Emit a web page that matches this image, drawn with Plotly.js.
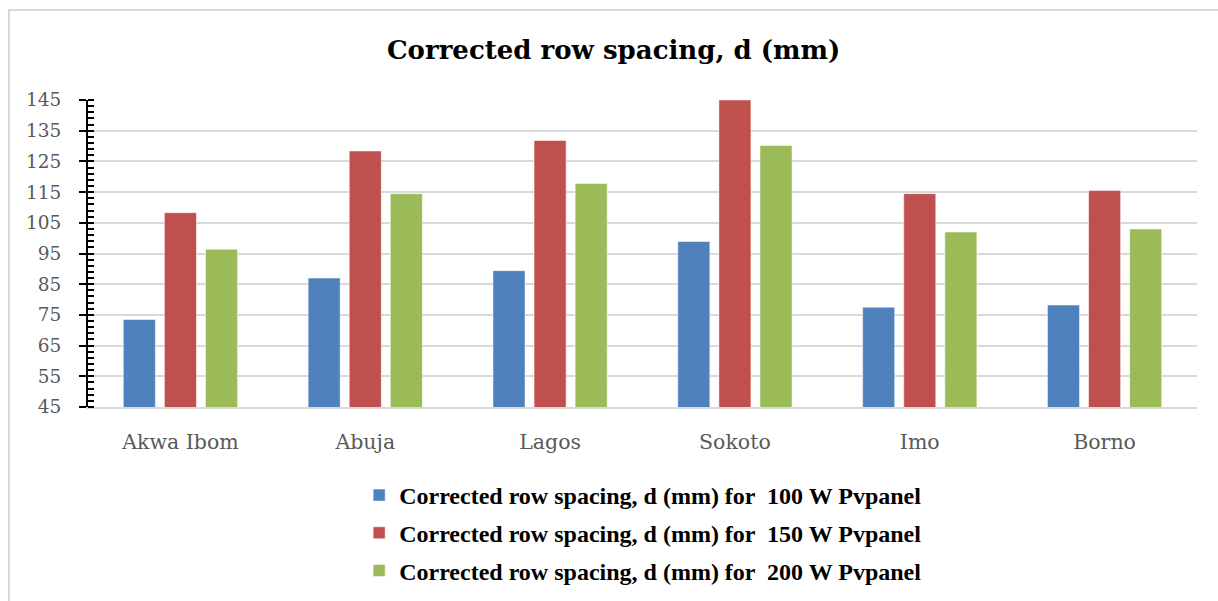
<!DOCTYPE html>
<html>
<head>
<meta charset="utf-8">
<script src="https://cdn.plot.ly/plotly-3.0.1.min.js"></script>
<style>
  html, body { margin: 0; padding: 0; background: #ffffff; }
  #frame { position: absolute; left: 8px; top: 9px; width: 1215px; height: 600px; border-left: 2px solid #d9d9d9; border-top: 2px solid #d9d9d9; box-sizing: border-box; }
  #chart { position: absolute; left: 0; top: 0; width: 1218px; height: 601px; }
</style>
</head>
<body>
<div id="frame"></div>
<div id="chart"></div>
<script>
const categories = ["Akwa Ibom", "Abuja", "Lagos", "Sokoto", "Imo", "Borno"];
const series100 = [73.5, 87.0, 89.4, 98.9, 77.5, 78.2];
const series150 = [108.3, 128.4, 131.8, 145.0, 114.5, 115.5];
const series200 = [96.4, 114.5, 117.8, 130.2, 102.0, 103.0];
const seriesNames = [
  "Corrected row spacing, d (mm) for  100 W Pvpanel",
  "Corrected row spacing, d (mm) for  150 W Pvpanel",
  "Corrected row spacing, d (mm) for  200 W Pvpanel"
];
const yTicks = [45, 55, 65, 75, 85, 95, 105, 115, 125, 135, 145];

const colors = ["#4F81BD", "#C0504D", "#9BBB59"];
const seriesValues = [series100, series150, series200];

const traces = seriesValues.map((vals, i) => ({
  type: "bar",
  name: seriesNames[i],
  x: categories,
  y: vals,
  legendgroup: "g" + i,
  marker: { color: colors[i], line: { color: "rgba(255,255,255,0.5)", width: 1 } },
  hoverinfo: "x+y"
}));

traces.push({
  type: "scatter", mode: "markers", x: [categories[0]], y: [45],
  yaxis: "y2", showlegend: false, hoverinfo: "skip",
  marker: { opacity: 0 }
});

const layout = {
  width: 1218,
  height: 601,
  paper_bgcolor: "rgba(0,0,0,0)",
  plot_bgcolor: "rgba(0,0,0,0)",
  margin: { l: 88, r: 21, t: 100, b: 194, autoexpand: false },
  title: {
    text: "<b>Corrected row spacing, d (mm)</b>",
    x: 0.474, xref: "paper", xanchor: "center",
    y: 1 - 50 / 601, yref: "container", yanchor: "middle",
    font: { family: "DejaVu Serif, Cambria, serif", size: 26, color: "#000000" }
  },
  barmode: "group",
  bargap: 0.333,
  bargroupgap: 0.22,
  showlegend: true,
  legend: {
    orientation: "v",
    x: 0.2445, xanchor: "left",
    yref: "container",
    y: 1 - 473 / 601, yanchor: "top",
    traceorder: "grouped",
    tracegroupgap: 3.5,
    font: { family: "Liberation Serif, Times New Roman, serif", size: 24, color: "#000000", weight: "bold" }
  },
  xaxis: {
    type: "category",
    showline: true, linecolor: "#d9d9d9", linewidth: 2,
    showgrid: false, ticks: "",
    ticklabelstandoff: 15,
    tickfont: { family: "DejaVu Serif, Cambria, serif", size: 20.5, color: "#595959" },
    fixedrange: true
  },
  yaxis: {
    range: [45, 145],
    tickvals: yTicks,
    ticktext: yTicks.map(String),
    showline: true, linecolor: "#000000", linewidth: 2,
    showgrid: true, gridcolor: "#d9d9d9", gridwidth: 2,
    zeroline: false,
    ticks: "outside", ticklen: 7, tickwidth: 2, tickcolor: "#000000",
    ticklabelstandoff: 14,
    minor: { dtick: 2, tick0: 45, ticks: "inside", ticklen: 6, tickwidth: 2, tickcolor: "#000000", showgrid: false },
    tickfont: { family: "DejaVu Serif, Cambria, serif", size: 18.5, color: "#595959" },
    fixedrange: true
  },
  yaxis2: {
    overlaying: "y",
    side: "left",
    range: [45, 145],
    tickvals: yTicks,
    showticklabels: false,
    showgrid: false, zeroline: false, showline: false,
    ticks: "inside", ticklen: 6, tickwidth: 2, tickcolor: "#000000",
    fixedrange: true
  }
};

Plotly.newPlot("chart", traces, layout, { displayModeBar: false, staticPlot: true });
</script>
</body>
</html>
